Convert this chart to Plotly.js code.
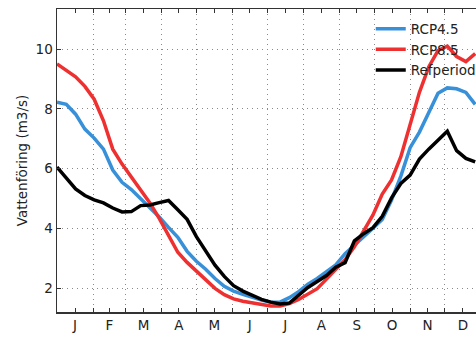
<!DOCTYPE html>
<html>
<head>
<meta charset="utf-8">
<script src="https://cdn.plot.ly/plotly-3.0.1.min.js"></script>
<style>
html,body{margin:0;padding:0;overflow:hidden;background:#fff;width:476px;height:337px;}
#chart{width:490px;height:337px;}
</style>
</head>
<body>
<div id="chart"></div>
<script>
// Day of year
const days = [0,8,16,24,32,40,48,56,64,72,80,88,96,104,112,120,128,136,144,152,160,168,176,184,192,200,208,216,224,232,240,248,256,264,272,280,288,296,304,312,320,328,336,344,352,360];

const rcp45 = [8.22,8.15,7.82,7.32,7.02,6.65,5.95,5.54,5.30,5.00,4.71,4.38,4.03,3.70,3.23,2.90,2.63,2.32,2.06,1.90,1.79,1.69,1.60,1.53,1.53,1.68,1.88,2.13,2.32,2.55,2.78,3.15,3.43,3.70,4.00,4.30,4.95,5.75,6.70,7.22,7.85,8.52,8.70,8.67,8.55,8.15];

const rcp85 = [9.50,9.28,9.07,8.75,8.32,7.60,6.65,6.15,5.73,5.30,4.85,4.33,3.76,3.20,2.86,2.56,2.30,1.99,1.78,1.64,1.56,1.50,1.44,1.40,1.40,1.48,1.62,1.80,1.98,2.30,2.62,2.95,3.38,3.90,4.45,5.15,5.62,6.40,7.45,8.55,9.40,9.95,10.10,9.75,9.58,9.85];

const refperiod = [6.05,5.68,5.32,5.10,4.95,4.85,4.68,4.55,4.56,4.76,4.78,4.86,4.93,4.62,4.30,3.72,3.22,2.77,2.39,2.08,1.90,1.75,1.62,1.53,1.47,1.50,1.75,2.02,2.22,2.42,2.70,2.85,3.58,3.82,4.02,4.40,5.02,5.50,5.78,6.32,6.65,6.96,7.25,6.60,6.34,6.22];

const monthMid = [15.5,45,74.5,105,135.5,166,196.5,227.5,258,288.5,319,349.5];
const monthLabels = ["J","F","M","A","M","J","J","A","S","O","N","D"];
const monthEdges = [31,59,90,120,151,181,212,243,273,304,334];
const yTicks = [2,4,6,8,10];

const font = "DejaVu Sans, sans-serif";
const dots = "1px,4px";

const traces = [
  {x: days, y: rcp45, name: "RCP4.5", mode: "lines", line: {color: "#3790d8", width: 3.5}},
  {x: days, y: rcp85, name: "RCP8.5", mode: "lines", line: {color: "#ee3030", width: 3.5}},
  {x: days, y: refperiod, name: "Refperiod", mode: "lines", line: {color: "#000000", width: 3.5}}
];

const layout = {
  width: 490, height: 337,
  margin: {l: 57, r: 9, t: 9, b: 25},
  paper_bgcolor: "#fff", plot_bgcolor: "#fff",
  font: {family: font, size: 13.5, color: "#222"},
  showlegend: true,
  legend: {x: 0.74, xanchor: "left", y: 0.985, yanchor: "top", bgcolor: "rgba(0,0,0,0)",
           font: {family: font, size: 13.5, color: "#222"}, tracegroupgap: 0},
  xaxis: {
    range: [0, 365],
    tickmode: "array", tickvals: monthMid, ticktext: monthLabels,
    ticks: "inside", ticklen: 4, tickwidth: 1, tickcolor: "#333",
    showgrid: false, zeroline: false,
    showline: true, linecolor: "#333", linewidth: 1.5, mirror: "allticks",
    minor: {tickmode: "array", tickvals: monthEdges, ticks: "inside", ticklen: 4, tickcolor: "#333",
            showgrid: true, gridcolor: "#8a8a8a", gridwidth: 1, griddash: dots},
    tickfont: {family: font, size: 13.5, color: "#222"}
  },
  yaxis: {
    range: [1.2, 11.34],
    tickmode: "array", tickvals: yTicks,
    ticks: "inside", ticklen: 4, tickwidth: 1, tickcolor: "#333",
    showgrid: true, gridcolor: "#8a8a8a", gridwidth: 1, griddash: dots,
    zeroline: false,
    showline: true, linecolor: "#333", linewidth: 1.5, mirror: "allticks",
    title: {text: "Vattenföring (m3/s)", font: {family: font, size: 13.5, color: "#222"}, standoff: 5},
    tickfont: {family: font, size: 13.5, color: "#222"}
  }
};

Plotly.newPlot("chart", traces, layout, {displayModeBar: false, staticPlot: true});
</script>
</body>
</html>
